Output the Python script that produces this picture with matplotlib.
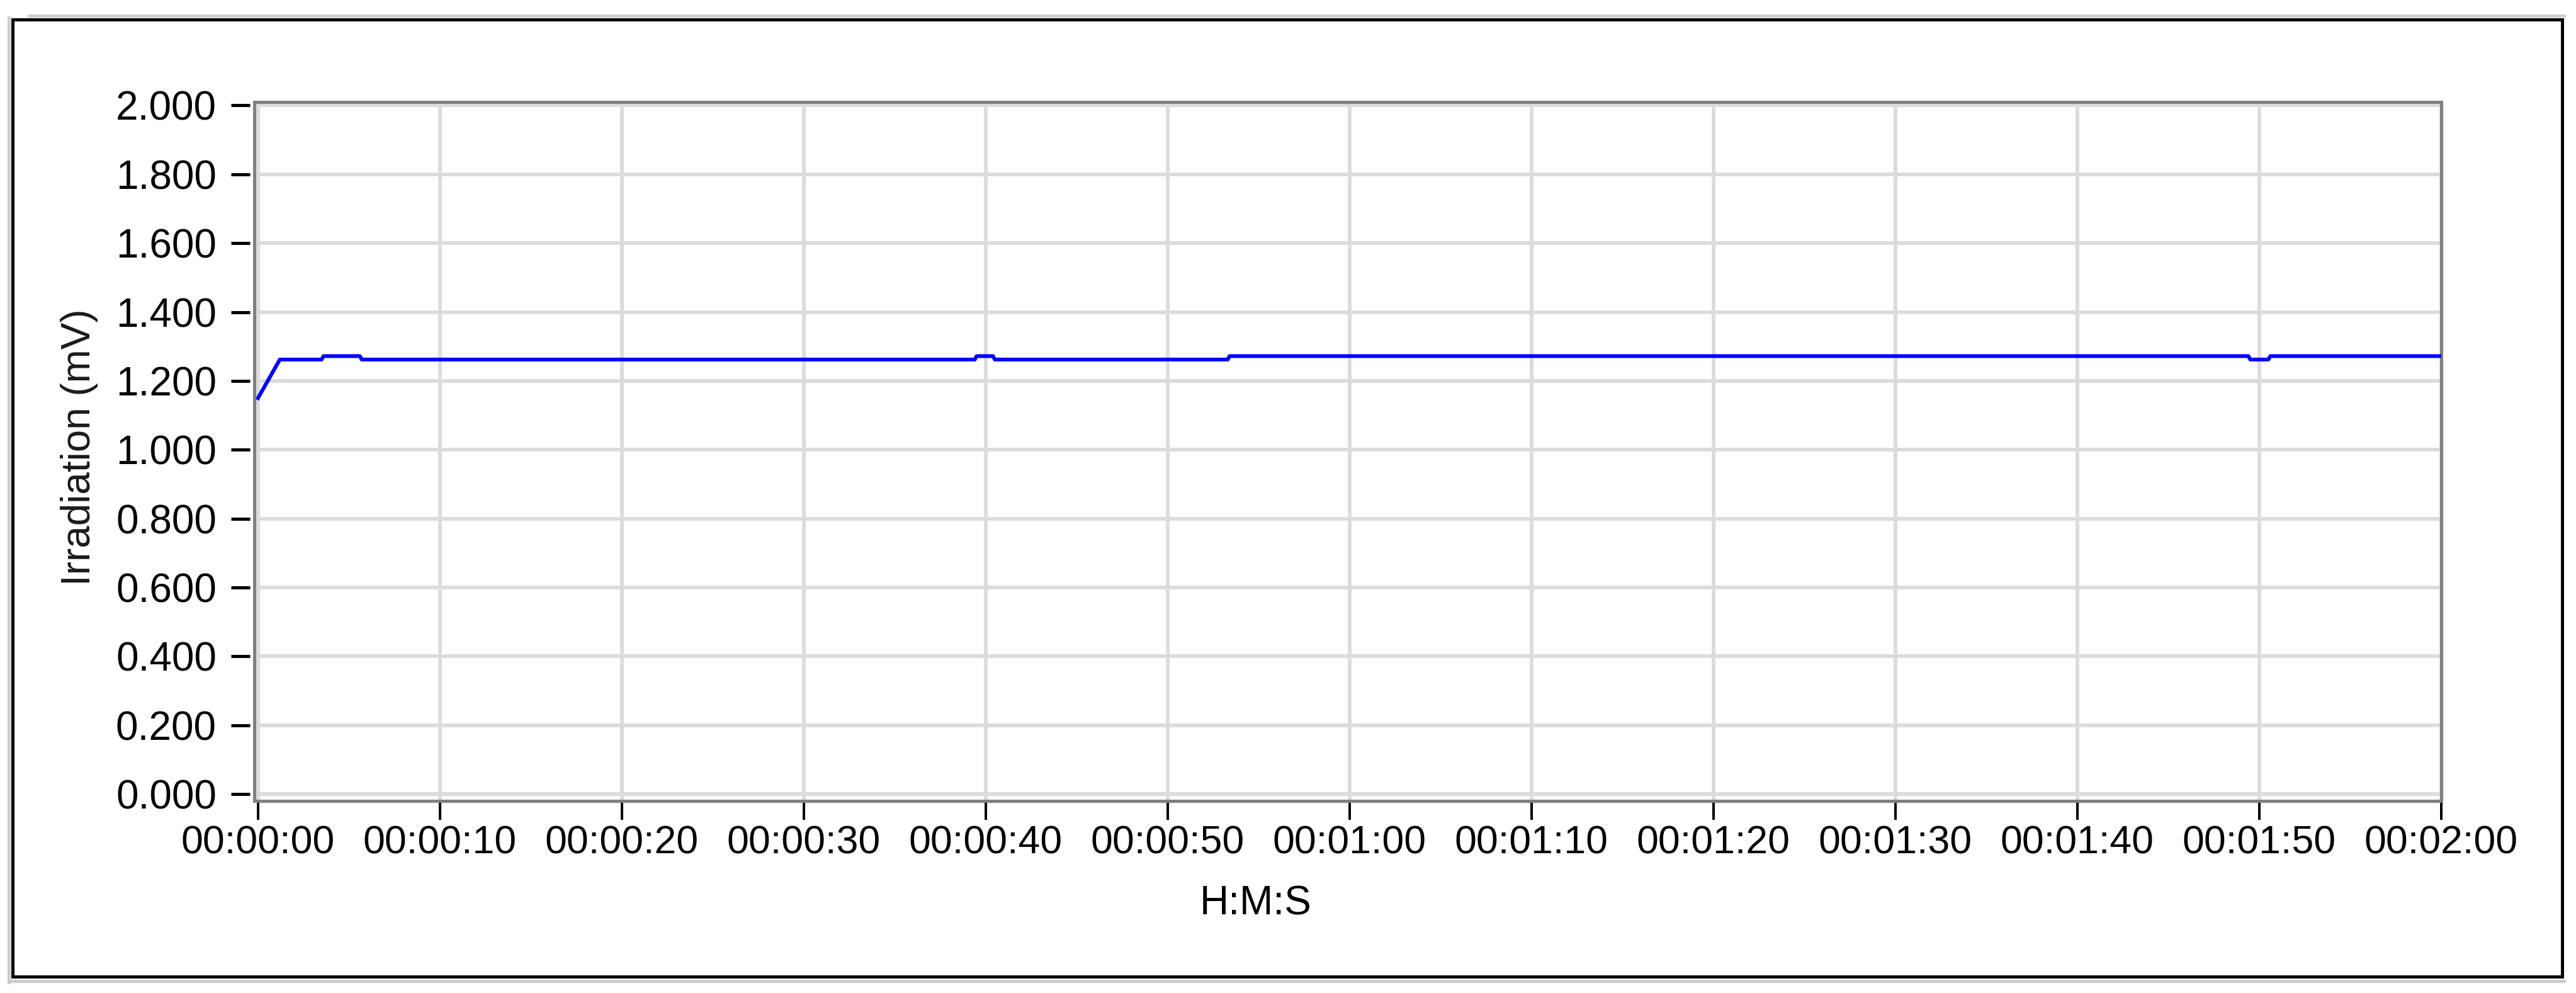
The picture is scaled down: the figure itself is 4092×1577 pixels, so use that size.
import matplotlib
matplotlib.use("Agg")
import matplotlib.pyplot as plt
from matplotlib.lines import Line2D
from matplotlib.patches import Rectangle

plt.rcParams['font.family'] = ['Liberation Sans', 'DejaVu Sans']

# --- data (seconds from start, mV) ---
time_s = [0.0, 1.2, 3.5, 3.6, 5.6, 5.7, 39.4, 39.5, 40.4, 40.5,
          53.3, 53.4, 109.4, 109.5, 110.5, 110.6, 120.0]
irradiation_mv = [1.150, 1.262, 1.262, 1.272, 1.272, 1.262, 1.262, 1.272, 1.272, 1.262,
                  1.262, 1.272, 1.272, 1.262, 1.262, 1.272, 1.272]

x_ticks = [0, 10, 20, 30, 40, 50, 60, 70, 80, 90, 100, 110, 120]
x_tick_labels = ['00:00:00', '00:00:10', '00:00:20', '00:00:30', '00:00:40',
                 '00:00:50', '00:01:00', '00:01:10', '00:01:20', '00:01:30',
                 '00:01:40', '00:01:50', '00:02:00']
y_ticks = [0.0, 0.2, 0.4, 0.6, 0.8, 1.0, 1.2, 1.4, 1.6, 1.8, 2.0]
y_tick_labels = ['%.3f' % v for v in y_ticks]

W, H = 4092, 1577


def pt(px):
    """pixels -> points at dpi 100"""
    return px * 72.0 / 100.0


fig = plt.figure(figsize=(W / 100, H / 100), dpi=100)
fig.patch.set_facecolor('white')

# outer frame with light shadow
shadow = '#cccccc'
fig.add_artist(Line2D([47 / W, 4073 / W], [1 - 24.5 / H, 1 - 24.5 / H],
                      transform=fig.transFigure, color=shadow, lw=pt(5)))
fig.add_artist(Line2D([14 / W, 14 / W], [1 - 28 / H, 1 - 1560 / H],
                      transform=fig.transFigure, color=shadow, lw=pt(5)))
fig.add_artist(Line2D([14 / W, 4073 / W], [1 - 1558 / H, 1 - 1558 / H],
                      transform=fig.transFigure, color=shadow, lw=pt(5)))
fig.add_artist(Rectangle((20 / W, 1 - 1551 / H), 4050 / W, 1520 / H,
                         transform=fig.transFigure, fill=False,
                         edgecolor='black', lw=pt(5)))

ax = fig.add_axes([404 / W, 1 - 1272 / H, (3878 - 404) / W, (1272 - 162) / H])

ax.plot(time_s, irradiation_mv, color='#0000ff', lw=pt(6), zorder=3)

ax.set_xlim(-0.2, 120)
ax.set_ylim(-0.02, 2.01)
ax.set_xticks(x_ticks)
ax.set_xticklabels(x_tick_labels)
ax.set_yticks(y_ticks)
ax.set_yticklabels(y_tick_labels)

ax.grid(True, color='#dcdcdc', lw=pt(6), zorder=0)
ax.set_axisbelow(True)

for side in ['top', 'right', 'bottom']:
    ax.spines[side].set_color('#808080')
    ax.spines[side].set_linewidth(pt(5))
# y ticks sit a little away from the frame
ax.spines['left'].set_position(('outward', pt(7)))
ax.spines['left'].set_visible(False)
ax.plot([0, 0], [0, 1], transform=ax.transAxes, color='#808080', lw=pt(5),
        clip_on=False, zorder=4, solid_capstyle='projecting')

ax.tick_params(axis='x', direction='out', length=pt(30), width=pt(4),
               color='black', pad=pt(7), labelsize=45, labelcolor='black')
ax.tick_params(axis='y', direction='out', length=pt(30), width=pt(5),
               color='black', pad=pt(23), labelsize=46, labelcolor='black')

ax.set_xlabel('H:M:S', fontsize=46, color='black')
ax.xaxis.label.set_va('center')
ax.xaxis.set_label_coords(0.458, -0.147)
ax.set_ylabel('Irradiation (mV)', fontsize=46, color='#1a1a1a')
ax.yaxis.label.set_va('center')
ax.yaxis.set_label_coords(-0.080, 0.506)

fig.savefig('out.png', dpi=100)
